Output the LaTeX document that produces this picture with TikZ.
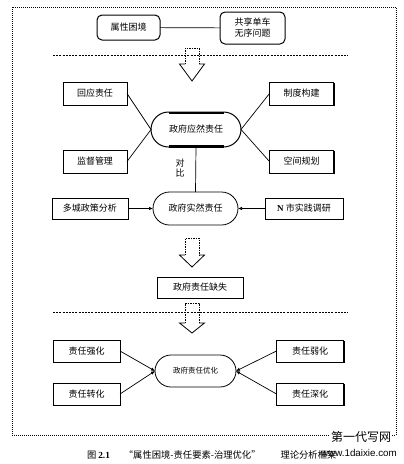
\documentclass[tikz,border=0pt]{standalone}
\usepackage{fontspec}
\setmainfont{Liberation Serif}
\newfontfamily\cjk{Noto Sans CJK SC}
\newfontfamily\wmfont{Liberation Sans}
\usetikzlibrary{shapes.misc,arrows.meta,shadows}
\newcommand\hollowarr[4]{%
  \draw[line width=0.8pt,dash pattern=on 1.5pt off 1pt] (#1-7,#3) -- (#1-7,#2) -- (#1+7,#2) -- (#1+7,#3);
  \draw[line width=0.8pt,line join=miter] (#1-7,#3) -- (#1-12.5,#3) -- (#1,#4) -- (#1+12.5,#3) -- (#1+7,#3);
}
\begin{document}
\begin{tikzpicture}[x=1pt,y=-1pt,
  every node/.style={inner sep=0pt,outer sep=0pt,font=\cjk\fontsize{9}{11}\selectfont},
  box/.style={draw,fill=white,line width=0.8pt,minimum width=64pt,minimum height=23pt,
    drop shadow={shadow xshift=1pt,shadow yshift=-1pt,opacity=1,fill=black}},
  rbox/.style={draw,fill=white,line width=1pt,rounded corners=5pt},
  stad/.style={rounded rectangle,draw,fill=white,line width=0.8pt},
  link/.style={line width=0.7pt},
  arr/.style={line width=0.7pt,-{Latex[length=4pt,width=3.5pt]}},
  dline/.style={line width=1pt,dash pattern=on 2pt off 1.2pt}]
\useasboundingbox (0,0) rectangle (404,464);
% outer frame
\draw[line width=0.9pt,dash pattern=on 1pt off 1pt] (12,7) rectangle (396,435);
% top
\node[rbox,minimum width=63pt,minimum height=25pt] (prop) at (128.5,27.5) {属性困境};
\node[rbox,minimum width=65pt,minimum height=32pt,align=center] (bike) at (252.5,28) {共享单车\\无序问题};
\draw[link] (prop) -- (bike);
\draw[dline] (53,55) -- (348,55);
\hollowarr{192}{48}{64}{81}
% ought responsibility
\node[stad,line width=1pt,minimum width=90pt,minimum height=35pt] (yr) at (196,129.5) {政府应然责任};
\draw[line width=2.2pt] ([xshift=-27.5pt,yshift=-0.6pt]yr.north) -- ([xshift=27.5pt,yshift=-0.6pt]yr.north);
\draw[line width=2.2pt] ([xshift=-27.5pt,yshift=0.6pt]yr.south) -- ([xshift=27.5pt,yshift=0.6pt]yr.south);
\node[box] (hy) at (95,93.5) {回应责任};
\node[box] (zd) at (301.5,93.5) {制度构建};
\node[box] (jd) at (95,161.5) {监督管理};
\node[box] (kj) at (301.5,161.5) {空间规划};
\draw[link] (hy.east) -- (yr.west);
\draw[link] (jd.east) -- (yr.west);
\draw[link] (zd.west) -- (yr.east);
\draw[link] (kj.west) -- (yr.east);
% actual responsibility
\node[stad,minimum width=85pt,minimum height=33pt] (sr) at (195.5,208.5) {政府实然责任};
\draw[link] (yr.south) -- (sr.north);
\node[align=center,font=\cjk\fontsize{9}{10.5}\selectfont] (db) at (180,168) {对\\比};
\node[box,minimum width=76pt,minimum height=21pt] (dc) at (90,208.5) {多城政策分析};
\node[box,minimum width=78pt,minimum height=21pt] (ns) at (304,208.5) {{\rmfamily\bfseries N} 市实践调研};
\draw[arr] (dc.east) -- (sr.west);
\draw[arr] (ns.west) -- (sr.east);
\hollowarr{192}{238}{255}{267}
\node[box,minimum width=86pt,minimum height=21pt] (qs) at (200,287.5) {政府责任缺失};
% optimisation
\hollowarr{192}{303}{323}{333}
\draw[dline] (53,312) -- (348,312);
\node[stad,minimum width=81pt,minimum height=32pt,font=\cjk\fontsize{7.5}{9}\selectfont] (yh) at (195.5,371) {政府责任优化};
\node[box,minimum width=67pt,minimum height=22pt] (qh) at (86.5,351) {责任强化};
\node[box,minimum width=67pt,minimum height=22pt] (zh) at (86.5,394) {责任转化};
\node[box,minimum width=67pt,minimum height=22pt] (rh) at (310,351) {责任弱化};
\node[box,minimum width=67pt,minimum height=22pt] (sh) at (310,394) {责任深化};
\draw[arr] (qh.east) -- (yh.west);
\draw[arr] (zh.east) -- (yh.west);
\draw[arr] (rh.west) -- (yh.east);
\draw[arr] (sh.west) -- (yh.east);
% caption
\node[anchor=west,font=\cjk\fontsize{9.3}{11}\selectfont] (cap) at (87,455) {图\hspace{2pt}{\rmfamily\bfseries 2.1}\hspace{14pt}“属性困境-责任要素-治理优化”\hspace{20pt}理论分析框架};
% watermark
\node[fill=white,inner sep=1pt,font=\cjk\fontsize{12}{12}\selectfont] (wm1) at (361,437) {第一代写网};
\node[font=\wmfont\fontsize{9.8}{10}\selectfont] (wm2) at (359,453) {www.1daixie.com};
\end{tikzpicture}
\end{document}
